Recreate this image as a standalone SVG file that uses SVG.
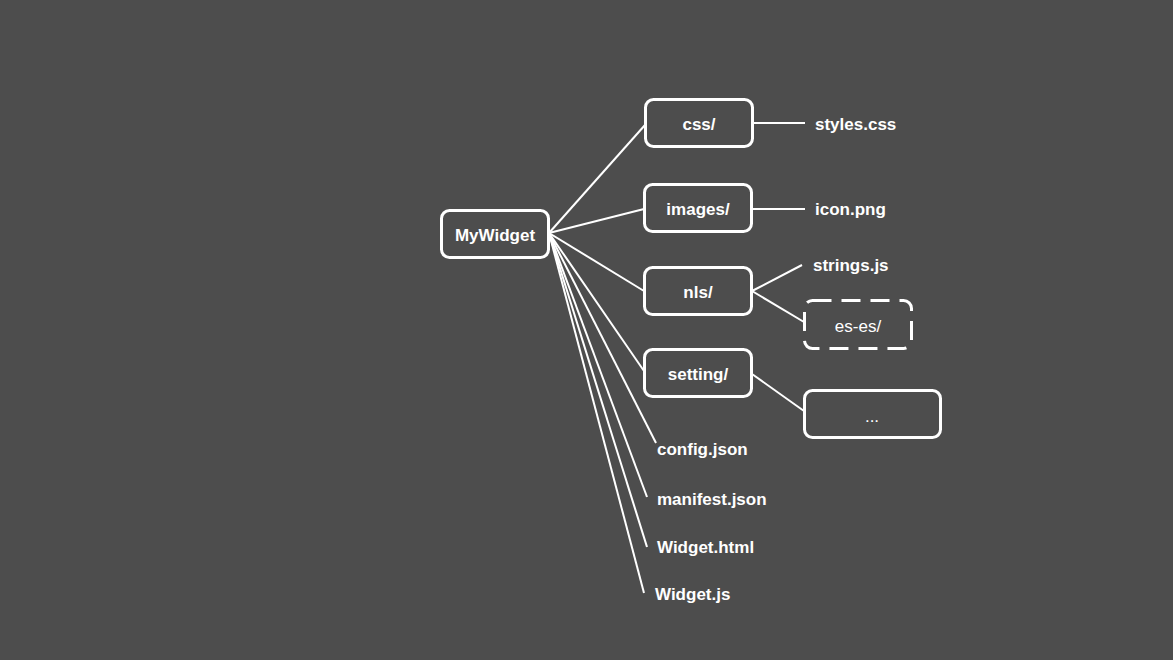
<svg xmlns="http://www.w3.org/2000/svg" width="1173" height="660" viewBox="0 0 1173 660">
<style>
.box{fill:none;stroke:#ffffff;stroke-width:3}
.dash{fill:none;stroke:#ffffff;stroke-width:3;stroke-dasharray:19 10}
.ln{stroke:#ffffff;stroke-width:2;fill:none}
.t{font-family:"Liberation Sans",Arial,sans-serif;font-size:17px;font-weight:bold;fill:#ffffff}
.n{font-family:"Liberation Sans",Arial,sans-serif;font-size:17px;fill:#ffffff}
.c{text-anchor:middle}
</style>
<rect x="0" y="0" width="1173" height="660" fill="#4d4d4d"/>
<g id="connectors">
<line class="ln" x1="549" y1="233" x2="645" y2="125"/>
<line class="ln" x1="549" y1="233" x2="644" y2="209"/>
<line class="ln" x1="549" y1="233" x2="644" y2="291"/>
<line class="ln" x1="549" y1="233" x2="644" y2="371"/>
<line class="ln" x1="549" y1="233" x2="656" y2="443"/>
<line class="ln" x1="549" y1="233" x2="647" y2="497"/>
<line class="ln" x1="549" y1="233" x2="647" y2="547"/>
<line class="ln" x1="549" y1="233" x2="644" y2="593"/>
<line class="ln" x1="753" y1="123" x2="805" y2="123"/>
<line class="ln" x1="752" y1="209" x2="805" y2="209"/>
<line class="ln" x1="752" y1="291" x2="802" y2="265"/>
<line class="ln" x1="752" y1="291" x2="804" y2="322"/>
<line class="ln" x1="752" y1="374" x2="804" y2="411"/>
</g>
<g id="mywidget"><rect class="box" x="441.5" y="210.5" width="107" height="47" rx="8"/><text class="t c" x="495" y="241">MyWidget</text></g>
<g id="css"><rect class="box" x="645.5" y="99.5" width="107" height="47" rx="8"/><text class="t c" x="699" y="130">css/</text></g>
<g id="images"><rect class="box" x="644.5" y="184.5" width="107" height="47" rx="8"/><text class="t c" x="698" y="215">images/</text></g>
<g id="nls"><rect class="box" x="644.5" y="267.5" width="107" height="47" rx="8"/><text class="t c" x="698" y="298">nls/</text></g>
<g id="setting"><rect class="box" x="644.5" y="349.5" width="107" height="47" rx="8"/><text class="t c" x="698" y="380">setting/</text></g>
<g id="eses"><rect class="dash" x="804.5" y="300.5" width="107" height="48" rx="8"/><text class="n c" x="858" y="332">es-es/</text></g>
<g id="more"><rect class="box" x="804.5" y="390.5" width="136" height="47" rx="8"/><text class="n c" x="872" y="422">...</text></g>
<g id="styles"><text class="t" x="815" y="130">styles.css</text></g>
<g id="icon"><text class="t" x="815" y="215">icon.png</text></g>
<g id="strings"><text class="t" x="813" y="271">strings.js</text></g>
<g id="config"><text class="t" x="657" y="455">config.json</text></g>
<g id="manifest"><text class="t" x="657" y="505">manifest.json</text></g>
<g id="widgethtml"><text class="t" x="657" y="553">Widget.html</text></g>
<g id="widgetjs"><text class="t" x="655" y="600">Widget.js</text></g>
</svg>
